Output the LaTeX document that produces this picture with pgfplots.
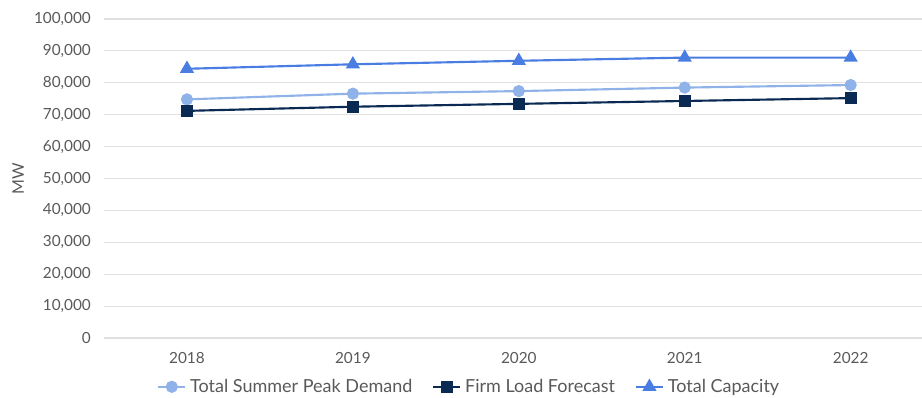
\documentclass[border=0pt]{standalone}
\usepackage{pgfplots}
\pgfplotsset{compat=1.18}
\usepackage{fontspec}
\setmainfont{Lato}
\definecolor{cap}{RGB}{74,125,226}
\definecolor{peak}{RGB}{143,178,232}
\definecolor{firm}{RGB}{10,42,84}
\definecolor{txt}{RGB}{89,89,89}
\definecolor{gridc}{RGB}{224,224,224}
\begin{document}
\fontsize{11pt}{13pt}\selectfont
\begin{tikzpicture}
\path[use as bounding box] (-78pt,-44.25pt) rectangle (613.5pt,253.5pt);
\begin{axis}[
  at={(0,0)}, anchor=south west,
  scale only axis,
  width=613.5pt, height=239.25pt,
  xmin=-0.5, xmax=4.43,
  ymin=0, ymax=100000,
  ytick={0,10000,20000,30000,40000,50000,60000,70000,80000,90000,100000},
  yticklabels={0,{10,000},{20,000},{30,000},{40,000},{50,000},{60,000},{70,000},{80,000},{90,000},{100,000}},
  xtick={0,1,2,3,4},
  xticklabels={2018,2019,2020,2021,2022},
  axis line style={draw=none},
  major tick length=0pt,
  ymajorgrids, xmajorgrids=false,
  grid style={draw=gridc, line width=0.8pt},
  scaled y ticks=false,
  tick label style={font=\fontsize{11.5pt}{13pt}\selectfont, text=txt},
  yticklabel style={xshift=-6pt},
  xticklabel style={yshift=-7pt},
  ylabel={MW},
  every axis y label/.style={at={(axis description cs:-0.105,0.5)},rotate=90,anchor=center,font=\fontsize{12pt}{14pt}\selectfont,text=txt},
  legend columns=3,
  legend style={draw=none, fill=none, at={(axis description cs:0.447,-0.153)}, anchor=center,
    font=\fontsize{13.5pt}{15pt}\selectfont, text=txt, inner sep=0pt,
    /tikz/every odd column/.append style={column sep=1pt},
    /tikz/every even column/.append style={column sep=13pt}},
  legend image code/.code={
    \draw[#1, mark repeat=2, mark phase=2] plot coordinates {(0pt,0pt) (10pt,0pt) (20pt,0pt)};
  },
  clip=false,
]
\addplot[color=peak, line width=1.6pt, mark=*, mark size=3.75pt] coordinates {
 (0,74800) (1,76600) (2,77400) (3,78500) (4,79300)};
\addlegendentry{Total Summer Peak Demand}
\addplot[color=firm, line width=1.6pt, mark=square*, mark size=3.6pt] coordinates {
 (0,71200) (1,72500) (2,73400) (3,74300) (4,75200)};
\addlegendentry{Firm Load Forecast}
\addplot[color=cap, line width=1.6pt, mark=triangle*, mark size=4.6pt] coordinates {
 (0,84400) (1,85800) (2,86900) (3,87900) (4,87900)};
\addlegendentry{Total Capacity}
\end{axis}
\end{tikzpicture}
\end{document}
